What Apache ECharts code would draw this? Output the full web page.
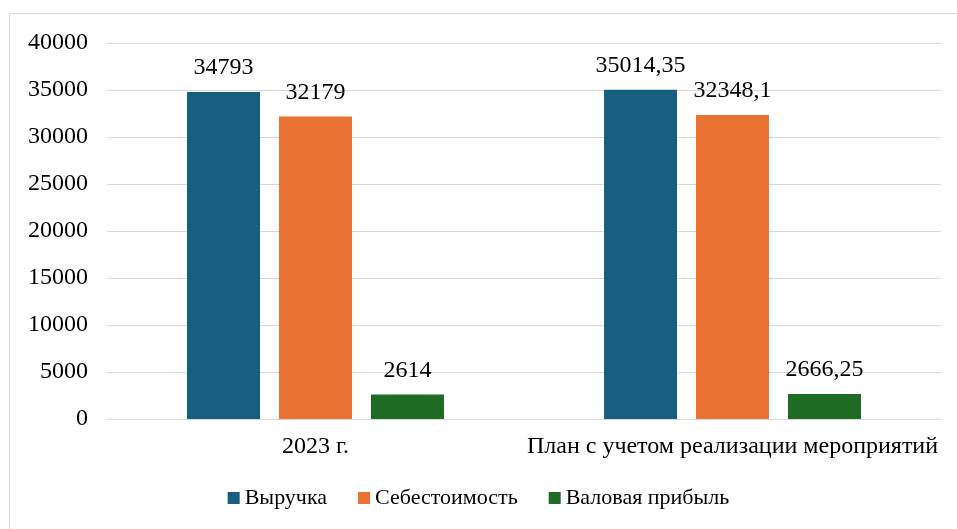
<!DOCTYPE html>
<html>
<head>
<meta charset="utf-8">
<script src="https://cdn.jsdelivr.net/npm/echarts@6/dist/echarts.min.js"></script>
<style>
  html, body { margin: 0; padding: 0; background: #fff; }
  #chart { width: 957px; height: 529px; }
</style>
</head>
<body>
<div id="chart"></div>
<script>
// категории и ряды
var categories = ['2023 г.', 'План с учетом реализации мероприятий'];
var seriesNames = ['Выручка', 'Себестоимость', 'Валовая прибыль'];
var revenue = [34793, 35014.35];
var cost = [32179, 32348.1];
var grossProfit = [2614, 2666.25];
var colors = ['#175f80', '#ea7334', '#1e6b26'];

var font = 'Liberation Serif';

function fmt(v) {
  return String(v).replace('.', ',');
}

function makeSeries(name, data, color) {
  return {
    name: name,
    type: 'bar',
    data: data,
    barWidth: 73,
    barGap: '26%',
    itemStyle: { color: color },
    label: {
      show: true,
      position: 'top',
      distance: 12,
      color: '#000',
      fontFamily: font,
      fontSize: 24,
      formatter: function (p) { return fmt(p.value); }
    }
  };
}

var chart = echarts.init(document.getElementById('chart'));
chart.setOption({
  animation: false,
  color: colors,
  graphic: [{
    type: 'rect',
    shape: { x: 9.5, y: 13.5, width: 1000, height: 1000 },
    style: { fill: 'none', stroke: '#d9d9d9', lineWidth: 1 },
    silent: true
  }],
  grid: { left: 107, right: 16, top: 43, bottom: 110 },
  legend: {
    bottom: 15,
    itemWidth: 12,
    itemHeight: 12,
    itemGap: 31,
    icon: 'rect',
    textStyle: { fontFamily: font, fontSize: 22, color: '#000' },
    data: seriesNames
  },
  xAxis: {
    type: 'category',
    data: categories,
    axisLine: { lineStyle: { color: '#d9d9d9', width: 1 } },
    axisTick: { show: false },
    axisLabel: { color: '#000', fontFamily: font, fontSize: 24, margin: 16, interval: 0 }
  },
  yAxis: {
    type: 'value',
    min: 0,
    max: 40000,
    interval: 5000,
    axisLine: { show: false },
    axisTick: { show: false },
    splitLine: { lineStyle: { color: '#d9d9d9', width: 1 } },
    axisLabel: {
      color: '#000', fontFamily: font, fontSize: 24, margin: 19,
      formatter: function (v) { return String(v); }
    }
  },
  series: [
    makeSeries(seriesNames[0], revenue, colors[0]),
    makeSeries(seriesNames[1], cost, colors[1]),
    makeSeries(seriesNames[2], grossProfit, colors[2])
  ]
});
</script>
</body>
</html>
